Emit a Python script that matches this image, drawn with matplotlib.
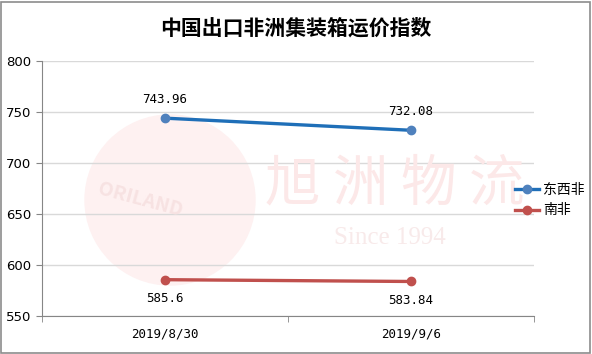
import matplotlib
matplotlib.use("Agg")
import matplotlib.pyplot as plt
from matplotlib.patches import Ellipse, Rectangle

plt.rcParams['font.family'] = ['Noto Sans CJK SC', 'DejaVu Sans']

# data
dates = ["2019/8/30", "2019/9/6"]
east_west = [743.96, 732.08]
south = [585.6, 583.84]
series_names = ["东西非", "南非"]

fig = plt.figure(figsize=(5.92, 3.54), dpi=100)
ax = fig.add_axes([42/592, 1-316/354, (534-42)/592, (316-61)/354])

# faint watermark
ax.add_patch(Ellipse((170/592, 1-200/354), 170/592, 170/354, transform=fig.transFigure,
                     color="#fef1f1", zorder=0, clip_on=False))
ax.text(140/592, 1-200/354, "ORILAND", rotation=-15, fontsize=14, weight="bold",
        color="#f7e2e2", ha="center", va="center", zorder=1, transform=fig.transFigure)
ax.text(395/592, 1-185/354, "旭 洲 物 流", fontsize=40, color="#fce8e8",
        ha="center", va="center", zorder=1, transform=fig.transFigure)
ax.text(390/592, 1-238/354, "Since 1994", fontsize=18, family="Liberation Serif",
        color="#f8eaea", ha="center", va="center", zorder=1, transform=fig.transFigure)

x = range(len(dates))
ax.plot(x, east_west, color="#1f6fb8", lw=2.4, marker="o", ms=6,
        mfc="#4f81bd", mec="#4f81bd", label=series_names[0], zorder=3)
ax.plot(x, south, color="#c0504d", lw=2.4, marker="o", ms=6,
        mfc="#c0504d", mec="#c0504d", label=series_names[1], zorder=3)

for i, v in enumerate(east_west):
    ax.annotate(f"{v:g}", (i, v), xytext=(0, 9), textcoords="offset points",
                ha="center", va="bottom", fontsize=9, family="DejaVu Sans Mono")
for i, v in enumerate(south):
    ax.annotate(f"{v:g}", (i, v), xytext=(0, -9), textcoords="offset points",
                ha="center", va="top", fontsize=9, family="DejaVu Sans Mono")

ax.set_xlim(-0.5, 1.5)
ax.set_ylim(550, 800)
ax.set_yticks([550, 600, 650, 700, 750, 800])
ax.set_xticks(list(x))
ax.set_xticklabels(dates, fontsize=9, family="DejaVu Sans Mono")
ax.set_xticks([-0.5, 0.5, 1.5], minor=True)
ax.tick_params(axis="x", which="major", length=0, pad=8)
ax.tick_params(axis="x", which="minor", length=4, color="#868686", direction="out")
ax.tick_params(axis="y", length=4, color="#868686", labelsize=9.5)
for lab in ax.get_yticklabels():
    lab.set_family("DejaVu Sans")

ax.grid(axis="y", color="#d9d9d9", lw=1)
ax.set_axisbelow(True)
ax.patch.set_alpha(0)
for s in ["top", "right"]:
    ax.spines[s].set_visible(False)
ax.spines["left"].set_color("#868686")
ax.spines["bottom"].set_color("#868686")

ax.legend(loc="center left", bbox_to_anchor=(511/592, 1-200/354), bbox_transform=fig.transFigure,
          frameon=False, fontsize=10, handlelength=1.7, handletextpad=0.3, labelspacing=0.5,
          borderaxespad=0, borderpad=0.3)

fig.text(0.5, 1-28/354, "中国出口非洲集装箱运价指数", ha="center", va="center",
         fontsize=15, weight="bold")

fig.patches.append(Rectangle((1/592, 1/354), 589/592, 351/354, transform=fig.transFigure,
                             fill=False, edgecolor="#8c8c8c", lw=1.2))

fig.savefig("out.png", dpi=100)
